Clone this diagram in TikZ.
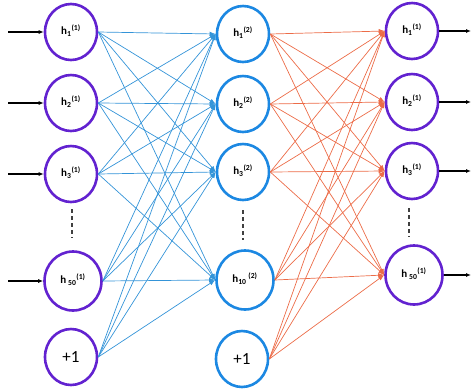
\documentclass[tikz,border=0pt]{standalone}
\usepackage{fontspec}
\setmainfont{Carlito}
\usetikzlibrary{shapes.geometric,arrows.meta}
\definecolor{purp}{RGB}{98,34,208}
\definecolor{bnode}{RGB}{28,136,226}
\definecolor{bedge}{RGB}{52,148,216}
\definecolor{oedge}{RGB}{236,108,72}
\begin{document}
\begin{tikzpicture}[x=1pt,y=-1pt,
  neuron/.style={ellipse, line width=2.6pt, minimum width=52pt, minimum height=56pt, inner sep=0pt, font=\bfseries\fontsize{11}{12}\selectfont},
  pn/.style={neuron, draw=purp},
  bn/.style={neuron, draw=bnode},
  big/.style={minimum width=57pt, minimum height=59pt},
  bias/.style={font=\fontsize{17}{18}\selectfont},
  bline/.style={draw=bedge, line width=0.7pt, -{Latex[length=6pt,width=4.5pt]}},
  oline/.style={draw=oedge, line width=0.7pt, -{Latex[length=6pt,width=4.5pt]}},
  io/.style={draw=black, line width=1.1pt, -{Latex[length=5pt,width=4pt]}},
  dots/.style={draw=black!75, line width=1.6pt, dash pattern=on 4pt off 3pt}
]
\useasboundingbox (0,0) rectangle (473,389);
% layer 1
\node[pn] (a1) at (71,32) {\raisebox{4pt}{h\textsubscript{1}\textsuperscript{(1)}}};
\node[pn] (a2) at (71,103) {\raisebox{4pt}{h\textsubscript{2}\textsuperscript{(1)}}};
\node[pn] (a3) at (71,174) {\raisebox{4pt}{h\textsubscript{3}\textsuperscript{(1)}}};
\node[pn,big] (a4) at (73,281) {\raisebox{4pt}{h\,\textsubscript{50}\textsuperscript{(1)}}};
\node[pn,bias] (a5) at (71,357) {+1};
% layer 2
\node[bn] (b1) at (243,34) {\raisebox{4pt}{h\textsubscript{1}\textsuperscript{(2)}}};
\node[bn] (b2) at (243,104) {\raisebox{4pt}{h\textsubscript{2}\textsuperscript{(2)}}};
\node[bn] (b3) at (243,172) {\raisebox{4pt}{h\textsubscript{3}\textsuperscript{(2)}}};
\node[bn,big] (b4) at (245,280) {\raisebox{4pt}{h\textsubscript{10}\,\textsuperscript{(2)}}};
\node[bn,bias] (b5) at (242,359) {+1};
% layer 3
\node[pn] (c1) at (412,31) {\raisebox{4pt}{h\textsubscript{1}\textsuperscript{(1)}}};
\node[pn] (c2) at (412,102) {\raisebox{4pt}{h\textsubscript{2}\textsuperscript{(1)}}};
\node[pn] (c3) at (412,171) {\raisebox{4pt}{h\textsubscript{3}\textsuperscript{(1)}}};
\node[pn,big] (c4) at (414,275) {\raisebox{4pt}{h\,\textsubscript{50}\textsuperscript{(1)}}};
% connections
\foreach \s in {a1,a2,a3,a4,a5}
  \foreach \t in {b1,b2,b3,b4}
    \draw[bline] (\s.east) -- (\t.west);
\foreach \s in {b1,b2,b3,b4,b5}
  \foreach \t in {c1,c2,c3,c4}
    \draw[oline] (\s.east) -- (\t.west);
% inputs and outputs
\coordinate (i1) at (8,32);
\coordinate (i2) at (8,103);
\coordinate (i3) at (8,174);
\coordinate (i4) at (8,281);
\draw[io] (i1) -- (a1.west);
\draw[io] (i2) -- (a2.west);
\draw[io] (i3) -- (a3.west);
\draw[io] (i4) -- (a4.west);
\coordinate (o1) at (471,31);
\coordinate (o2) at (471,102);
\coordinate (o3) at (471,171);
\coordinate (o4) at (471,275);
\draw[io] (c1.east) -- (o1);
\draw[io] (c2.east) -- (o2);
\draw[io] (c3.east) -- (o3);
\draw[io] (c4.east) -- (o4);
% ellipsis dashes
\coordinate (d1a) at (72,209); \coordinate (d1b) at (72,238);
\coordinate (d2a) at (243,210); \coordinate (d2b) at (243,240);
\coordinate (d3a) at (409,208); \coordinate (d3b) at (409,237);
\draw[dots] (d1a) -- (d1b);
\draw[dots] (d2a) -- (d2b);
\draw[dots] (d3a) -- (d3b);
\end{tikzpicture}
\end{document}
